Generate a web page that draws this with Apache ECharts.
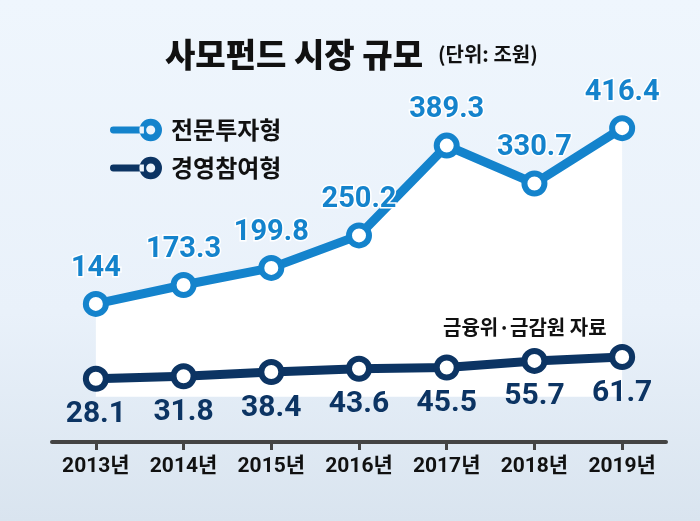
<!DOCTYPE html>
<html>
<head>
<meta charset="utf-8">
<script src="https://cdn.jsdelivr.net/npm/echarts@6/dist/echarts.min.js"></script>
<style>
	html, body {margin: 0; padding: 0;}
	#chart {width: 700px; height: 521px;}
</style>
</head>
<body>
<div id="chart"></div>
<script>
	// 사모펀드 시장 규모 (단위: 조원)
	const years = ['2013년', '2014년', '2015년', '2016년', '2017년', '2018년', '2019년'];
	const proInvest = [144, 173.3, 199.8, 250.2, 389.3, 330.7, 416.4];
	const mgmtPart = [28.1, 31.8, 38.4, 43.6, 45.5, 55.7, 61.7];
	const seriesNames = ['전문투자형', '경영참여형'];

	const numFont = "Roboto, 'Noto Sans CJK KR', sans-serif";
	const krFont = "'Noto Sans CJK KR', sans-serif";
	const lightBlue = '#1483cc';
	const navy = '#0c3463';

	// 범례 아이콘: 왼쪽 막대 + 오른쪽 고리
	const legendIcon = 'path://M3,7 L30,7 L30,13 L3,13 A3,3 0 0 1 3,7 Z ' +
		'M26,10 A10,10 0 1 0 46,10 A10,10 0 1 0 26,10 Z ' +
		'M32,10 A4,4 0 1 1 40,10 A4,4 0 1 1 32,10 Z';

	let chart = echarts.init(document.getElementById('chart'));

	let option = {
		backgroundColor: new echarts.graphic.LinearGradient(0, 0, 0, 1, [
			{offset: 0, color: '#eff6fd'},
			{offset: 0.6, color: '#e9f1fa'},
			{offset: 1, color: '#d9e4ef'}
		]),
		title: [{
			text: '{a|사모펀드 시장 규모}   {b|(단위: 조원)}',
			left: 160,
			top: 33,
			textStyle: {
				rich: {
					a: {fontFamily: krFont, fontSize: 33, fontWeight: 900, color: '#111'},
					b: {fontFamily: krFont, fontSize: 20, fontWeight: 'bold', color: '#111'}
				}
			}
		}, {
			text: '금융위·금감원 자료',
			left: 438,
			top: 312,
			textStyle: {fontFamily: krFont, fontSize: 20, fontWeight: 'bold', color: '#111'}
		}],
		legend: {
			orient: 'vertical',
			left: 105,
			top: 113,
			itemGap: 14,
			itemWidth: 52,
			itemHeight: 24,
			data: [
				{name: seriesNames[0], icon: legendIcon, itemStyle: {color: lightBlue, borderWidth: 0}},
				{name: seriesNames[1], icon: legendIcon, itemStyle: {color: navy, borderWidth: 0}}
			],
			textStyle: {fontFamily: krFont, fontSize: 24, fontWeight: 'bold', color: '#111', padding: [0, 0, 0, 4]}
		},
		grid: {left: 52, right: 34, top: 100, bottom: 79},
		xAxis: {
			type: 'category',
			data: years,
			boundaryGap: true,
			axisLine: {onZero: false, lineStyle: {color: '#444', width: 4}},
			axisTick: {show: true, interval: 0, alignWithLabel: true, length: 8, lineStyle: {color: '#444', width: 3}},
			axisLabel: {interval: 0, fontFamily: numFont, fontSize: 21, fontWeight: 'bold', color: '#111', margin: 14}
		},
		yAxis: {
			type: 'value',
			min: -70,
			max: 460,
			show: false,
			splitLine: {show: false}
		},
		series: [{
			name: seriesNames[0],
			type: 'line',
			data: proInvest,
			z: 2,
			symbol: 'circle',
			symbolSize: 20,
			lineStyle: {color: lightBlue, width: 9},
			itemStyle: {color: '#fff', borderColor: lightBlue, borderWidth: 6},
			areaStyle: {color: '#fff', opacity: 1},
			label: {
				show: true,
				position: 'top',
				distance: 8,
				fontFamily: numFont,
				fontSize: 29,
				fontWeight: 'bold',
				color: lightBlue,
				textBorderColor: '#fff',
				textBorderWidth: 3
			}
		}, {
			name: seriesNames[1],
			type: 'line',
			data: mgmtPart,
			z: 3,
			symbol: 'circle',
			symbolSize: 20,
			lineStyle: {color: navy, width: 9},
			itemStyle: {color: '#fff', borderColor: navy, borderWidth: 6},
			label: {
				show: true,
				position: 'bottom',
				distance: 8,
				fontFamily: numFont,
				fontSize: 30,
				fontWeight: 'bold',
				color: navy
			}
		}]
	};

	chart.setOption(option);
</script>
</body>
</html>
